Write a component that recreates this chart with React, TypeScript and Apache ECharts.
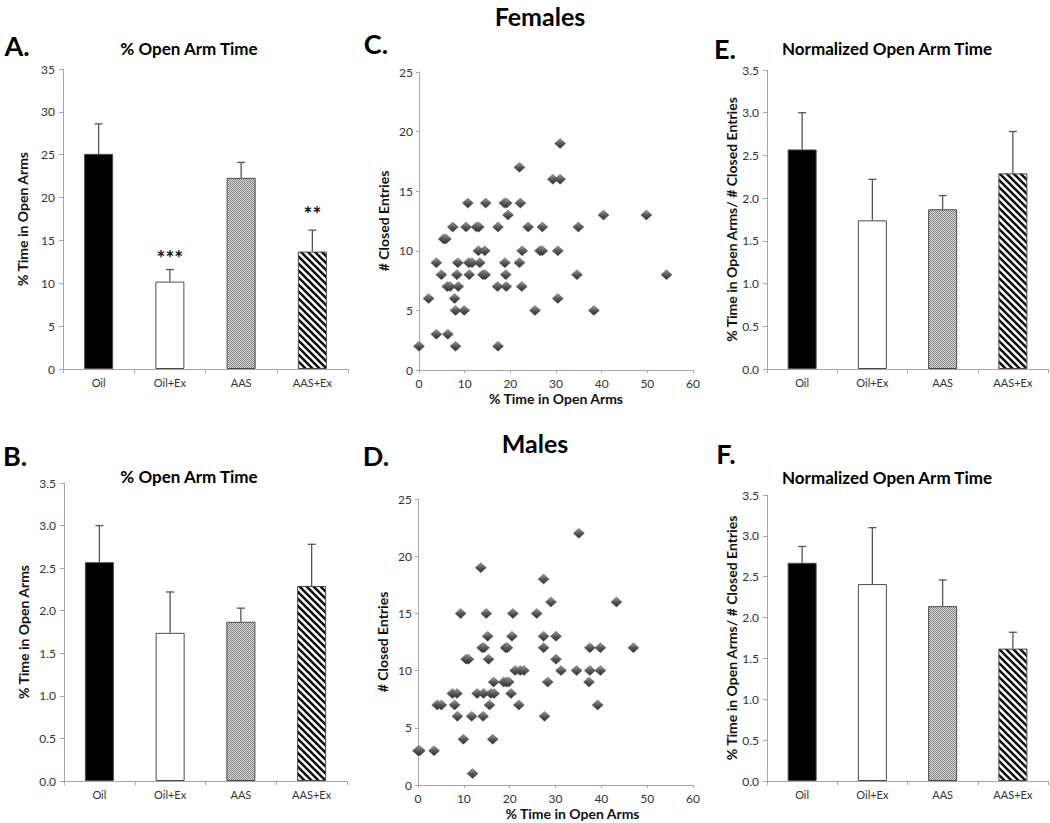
import React, { useEffect, useRef } from "react";
import * as echarts from "echarts";

// ---------- data ----------
const groups = ["Oil", "Oil+Ex", "AAS", "AAS+Ex"];

// A. Females % open arm time
const femaleOpenMean = [25.1, 10.2, 22.3, 13.7];
const femaleOpenSem = [3.5, 1.4, 1.8, 2.5];
const femaleOpenStars = ["", "***", "", "**"];
const femaleOpenStarLevel = [0, 13.6, 0, 18.7];

// B. Males % open arm time
const maleOpenMean = [2.57, 1.74, 1.87, 2.29];
const maleOpenSem = [0.43, 0.48, 0.16, 0.49];

// E. Females normalized open arm time
const femaleNormMean = [2.57, 1.74, 1.87, 2.29];
const femaleNormSem = [0.43, 0.48, 0.16, 0.49];

// F. Males normalized open arm time
const maleNormMean = [2.67, 2.41, 2.14, 1.62];
const maleNormSem = [0.2, 0.69, 0.32, 0.2];

// C. Females: [% time in open arms, # closed entries]
const femaleScatter = [
  [0, 2], [2.1, 6], [3.8, 9], [3.8, 3], [4.9, 8], [5.4, 11], [5.9, 11], [6.3, 3],
  [6.2, 7], [6.8, 7], [7.4, 12], [7.8, 6], [8.0, 5], [8.0, 2], [8.3, 8], [8.5, 9],
  [8.6, 7], [9.9, 5], [10.3, 12], [10.7, 14], [10.9, 9], [11.0, 8], [11.6, 9],
  [12.6, 12], [13.1, 12], [13.0, 10], [13.3, 9], [14.0, 8], [14.5, 8], [14.4, 10],
  [14.6, 14], [17.2, 7], [17.3, 12], [17.3, 2], [18.8, 9], [18.7, 14], [19.2, 14],
  [19.0, 8], [19.1, 7], [19.5, 13], [22.0, 17], [22.2, 14], [22.0, 9], [22.5, 7],
  [22.6, 10], [23.9, 12], [25.4, 5], [26.5, 10], [27.0, 10], [27.0, 12], [29.3, 16],
  [30.9, 16], [30.9, 19], [30.4, 10], [30.4, 6], [34.6, 8], [34.9, 12], [38.3, 5],
  [40.4, 13], [49.8, 13], [54.2, 8],
];

// D. Males: [% time in open arms, # closed entries]
const maleScatter = [
  [0, 3], [0.4, 3], [3.5, 3], [4.2, 7], [5.1, 7], [7.5, 8], [8.5, 8], [8.0, 7],
  [8.6, 6], [9.3, 15], [9.9, 4], [10.5, 11], [11.0, 11], [11.7, 6], [11.9, 1],
  [12.9, 8], [14.3, 8], [15.9, 8], [16.6, 8], [13.7, 19], [14.0, 12], [14.4, 12],
  [14.2, 6], [14.9, 15], [15.2, 13], [15.4, 11], [15.6, 7], [16.5, 9], [16.3, 4],
  [18.7, 9], [19.3, 9], [19.8, 9], [19.1, 12], [19.5, 12], [20.3, 8], [20.5, 13],
  [20.7, 15], [21.2, 10], [22.3, 10], [23.1, 10], [22.0, 7], [25.9, 15], [27.4, 18],
  [27.4, 13], [27.4, 12], [27.6, 6], [28.3, 9], [29.0, 16], [30.1, 13], [30.1, 11],
  [31.2, 10], [34.6, 10], [35.1, 22], [37.3, 9], [37.5, 12], [37.5, 10], [39.8, 12],
  [39.8, 10], [39.2, 7], [43.3, 16], [47.0, 12],
];

const FONT = "Lato, 'Open Sans', sans-serif";

function makeStripe(): HTMLCanvasElement {
  const s = 7;
  const c = document.createElement("canvas");
  c.width = s;
  c.height = s;
  const ctx = c.getContext("2d")!;
  ctx.fillStyle = "#ffffff";
  ctx.fillRect(0, 0, s, s);
  ctx.strokeStyle = "#111111";
  ctx.lineWidth = 2.6;
  ctx.beginPath();
  for (let k = -1; k <= 1; k++) {
    ctx.moveTo(k * s - 1, -1);
    ctx.lineTo(k * s + s + 1, s + 1);
  }
  ctx.stroke();
  return c;
}

function makeDots(): HTMLCanvasElement {
  const c = document.createElement("canvas");
  c.width = 2;
  c.height = 2;
  const ctx = c.getContext("2d")!;
  ctx.fillStyle = "#d8d8d8";
  ctx.fillRect(0, 0, 2, 2);
  ctx.fillStyle = "#858585";
  ctx.fillRect(0, 0, 1, 1);
  ctx.fillRect(1, 1, 1, 1);
  return c;
}

export default function App() {
  const ref = useRef<HTMLDivElement>(null);

  useEffect(() => {
    if (!ref.current) return;
    const chart = echarts.init(ref.current, undefined, { renderer: "svg" });

    const stripe = { image: makeStripe(), repeat: "repeat" } as any;
    const dots = { image: makeDots(), repeat: "repeat" } as any;
    const barFills: any[] = ["#000000", "#ffffff", dots, stripe];

    const axisColor = "#a6a6a6";
    const labelColor = "#333333";

    const grids = [
      { left: 63, top: 69, width: 285, height: 300 }, // A
      { left: 64, top: 483, width: 283, height: 298 }, // B
      { left: 419, top: 72, width: 274, height: 298 }, // C
      { left: 418, top: 499, width: 275, height: 286 }, // D
      { left: 767, top: 70, width: 281, height: 299 }, // E
      { left: 767, top: 495, width: 281, height: 286 }, // F
    ];

    const catX = (gi: number) => ({
      type: "category",
      gridIndex: gi,
      data: groups,
      axisLine: { show: true, lineStyle: { color: axisColor, width: 1 } },
      axisTick: { show: true, length: 4, lineStyle: { color: axisColor } },
      axisLabel: { fontSize: 11, color: labelColor, fontFamily: FONT, margin: 8 },
    });

    const valY = (gi: number, max: number, interval: number, name: string, gap: number, dec: number) => ({
      type: "value",
      gridIndex: gi,
      min: 0,
      max,
      interval,
      splitLine: { show: false },
      axisLine: { show: true, lineStyle: { color: axisColor, width: 1 } },
      axisTick: { show: true, length: 4, lineStyle: { color: axisColor } },
      axisLabel: {
        fontSize: 12,
        color: labelColor,
        fontFamily: FONT,
        margin: 8,
        formatter: (v: number) => v.toFixed(dec),
      },
      name,
      nameLocation: "middle",
      nameGap: gap,
      nameTextStyle: { fontSize: 14, fontWeight: "bold", color: "#111", fontFamily: FONT },
    });

    const scatterX = (gi: number, padLeft: number) => ({
      type: "value",
      gridIndex: gi,
      min: 0,
      max: 60,
      interval: 10,
      splitLine: { show: false },
      axisLine: { show: true, onZero: false, lineStyle: { color: axisColor, width: 1 } },
      axisTick: { show: true, length: 3, lineStyle: { color: axisColor } },
      axisLabel: { fontSize: 12, color: labelColor, fontFamily: FONT, margin: 7 },
      name: "% Time in Open Arms",
      nameLocation: "middle",
      nameGap: 21,
      nameTextStyle: {
        fontSize: 14,
        fontWeight: "bold",
        color: "#111",
        fontFamily: FONT,
        padding: [0, 0, 0, padLeft],
      },
    });

    const scatterY = (gi: number) => ({
      type: "value",
      gridIndex: gi,
      min: 0,
      max: 25,
      interval: 5,
      splitLine: { show: false },
      axisLine: { show: true, onZero: false, lineStyle: { color: axisColor, width: 1 } },
      axisTick: { show: true, length: 3, lineStyle: { color: axisColor } },
      axisLabel: { fontSize: 12, color: labelColor, fontFamily: FONT, margin: 6 },
      name: "# Closed Entries",
      nameLocation: "middle",
      nameGap: 29,
      nameTextStyle: { fontSize: 14, fontWeight: "bold", color: "#111", fontFamily: FONT },
    });

    const barSeries = (ai: number, means: number[]) => ({
      type: "bar",
      xAxisIndex: ai,
      yAxisIndex: ai,
      barWidth: 29,
      data: means.map((m, i) => ({
        value: m,
        itemStyle: { color: barFills[i], borderColor: "#4a4a4a", borderWidth: 1 },
      })),
      z: 2,
    });

    const errSeries = (ai: number, means: number[], sems: number[]) => ({
      type: "custom",
      xAxisIndex: ai,
      yAxisIndex: ai,
      data: means.map((m, i) => [i, m, m + sems[i]]),
      z: 3,
      renderItem: (params: any, api: any) => {
        const x = api.value(0);
        const p0 = api.coord([x, api.value(1)]);
        const p1 = api.coord([x, api.value(2)]);
        const st = { stroke: "#555", lineWidth: 1.3 };
        return {
          type: "group",
          children: [
            { type: "line", shape: { x1: p0[0], y1: p0[1], x2: p1[0], y2: p1[1] }, style: st },
            { type: "line", shape: { x1: p1[0] - 4, y1: p1[1], x2: p1[0] + 4, y2: p1[1] }, style: st },
          ],
        };
      },
    });

    const starSeries = (ai: number, stars: string[], levels: number[]) => ({
      type: "custom",
      xAxisIndex: ai,
      yAxisIndex: ai,
      data: levels.map((l, i) => [i, l]),
      z: 4,
      renderItem: (params: any, api: any) => {
        const txt = stars[params.dataIndex];
        if (!txt) return null;
        const p = api.coord([api.value(0), api.value(1)]);
        return {
          type: "text",
          x: p[0],
          y: p[1] + 5,
          style: {
            text: txt,
            fill: "#111",
            font: `bold 21px ${FONT}`,
            align: "center",
            verticalAlign: "middle",
            textAlign: "center",
            textVerticalAlign: "middle",
          },
        };
      },
    });

    const diamondColor = new echarts.graphic.LinearGradient(0, 0, 0, 1, [
      { offset: 0, color: "#a0a0a0" },
      { offset: 0.5, color: "#585858" },
      { offset: 1, color: "#2e2e2e" },
    ]);

    const scatterSeries = (ai: number, pts: number[][]) => ({
      type: "scatter",
      xAxisIndex: ai,
      yAxisIndex: ai,
      symbol: "diamond",
      symbolSize: [11, 10],
      data: pts,
      itemStyle: { color: diamondColor, borderColor: "#3a3a3a", borderWidth: 0.4, opacity: 1 },
      z: 3,
    });

    const txt = (text: string, x: number, y: number, size: number) => ({
      type: "text",
      x,
      y,
      style: {
        text,
        fill: "#000",
        font: `bold ${size}px ${FONT}`,
        align: "center",
        verticalAlign: "middle",
        textAlign: "center",
        textVerticalAlign: "middle",
      },
    });

    const option: any = {
      animation: false,
      backgroundColor: "#ffffff",
      grid: grids.map((g) => ({ ...g, containLabel: false })),
      xAxis: [catX(0), catX(1), scatterX(2, 0), scatterX(3, 34), catX(4), catX(5)],
      yAxis: [
        valY(0, 35, 5, "% Time in Open Arms", 34, 0),
        valY(1, 3.5, 0.5, "% Time in Open Arms", 34, 1),
        scatterY(2),
        scatterY(3),
        valY(4, 3.5, 0.5, "% Time in Open Arms/ # Closed Entries", 27, 1),
        valY(5, 3.5, 0.5, "% Time in Open Arms/ # Closed Entries", 27, 1),
      ],
      series: [
        barSeries(0, femaleOpenMean),
        errSeries(0, femaleOpenMean, femaleOpenSem),
        starSeries(0, femaleOpenStars, femaleOpenStarLevel),
        barSeries(1, maleOpenMean),
        errSeries(1, maleOpenMean, maleOpenSem),
        scatterSeries(2, femaleScatter),
        scatterSeries(3, maleScatter),
        barSeries(4, femaleNormMean),
        errSeries(4, femaleNormMean, femaleNormSem),
        barSeries(5, maleNormMean),
        errSeries(5, maleNormMean, maleNormSem),
      ],
      graphic: [
        txt("Females", 540, 16, 25),
        txt("Males", 535, 443, 25),
        txt("A.", 17, 45, 27),
        txt("B.", 15, 455, 27),
        txt("C.", 376, 43, 27),
        txt("D.", 376, 455, 27),
        txt("E.", 725, 48, 27),
        txt("F.", 726, 453, 27),
        txt("% Open Arm Time", 189, 48, 17),
        txt("% Open Arm Time", 189, 476, 17),
        txt("Normalized Open Arm Time", 887, 48, 17),
        txt("Normalized Open Arm Time", 887, 477, 17),
      ],
    };

    chart.setOption(option);
    return () => chart.dispose();
  }, []);

  return (
    <div
      ref={ref}
      style={{ position: "absolute", left: 0, top: 0, width: 1050, height: 823, background: "#fff" }}
    />
  );
}
